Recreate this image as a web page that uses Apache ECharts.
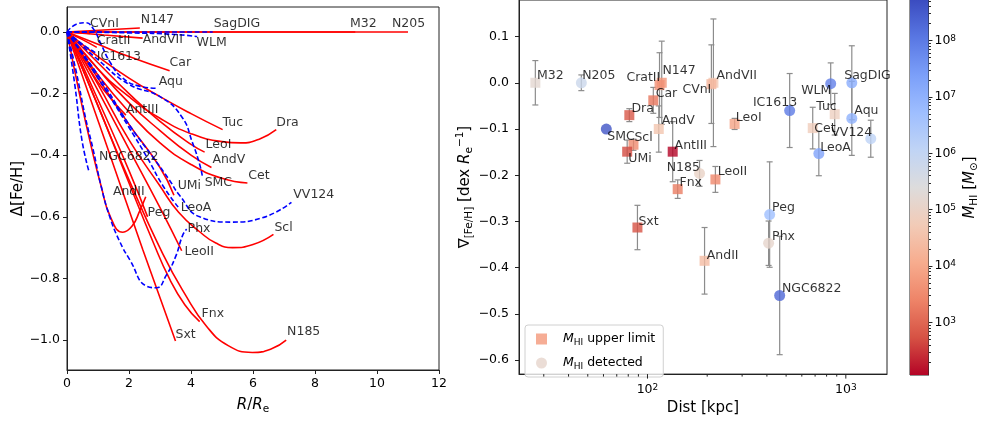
<!DOCTYPE html>
<html>
<head>
<meta charset="utf-8">
<script src="https://cdn.jsdelivr.net/npm/echarts@6/dist/echarts.min.js"></script>
<style>
html,body{margin:0;padding:0;background:#fff;}
#chart{width:981px;height:421px;}
</style>
</head>
<body>
<div id="chart"></div>
<script>
// ---- left panel: metallicity profiles  Δ[Fe/H] vs R/Re ----
var profNames = ['N147','M32','N205','CVnI','CratII','AndVII','Car','AntIII','Tuc','Dra','LeoI','AndV','Cet','UMi','AndII','Peg','Scl','LeoII','Fnx','Sxt','N185',
                 'Aqu','WLM','SagDIG','IC1613','SMC','VV124','LeoA','Phx','NGC6822'];
var profDashed = [0,0,0,0,0,0,0,0,0,0,0,0,0,0,0,0,0,0,0,0,0, 1,1,1,1,1,1,1,1,1];
var profPoints = [
  [[0,0],[2.35,0.013]],
  [[0,0],[9.3,0]],
  [[0,0],[11,0]],
  [[0,0],[0.74,-0.005]],
  [[0,0],[0.5,-0.025],[0.96,-0.05]],
  [[0,0],[1.2,-0.01],[2.44,-0.02]],
  [[0,0],[1,-0.04],[2,-0.08],[3.31,-0.126]],
  [[0,0],[0.6,-0.1],[1.2,-0.19],[1.9,-0.27]],
  [[0,0],[1,-0.08],[2,-0.15],[3,-0.21],[4,-0.265],[5.02,-0.317]],
  [[0,0],[1,-0.12],[2,-0.21],[3,-0.28],[4,-0.33],[5,-0.356],[5.6,-0.36],[6.2,-0.348],[6.75,-0.317]],
  [[0,0],[1,-0.1],[2,-0.2],[3,-0.29],[4,-0.365],[4.44,-0.39]],
  [[0,0],[1,-0.12],[2,-0.23],[3,-0.32],[4,-0.4],[4.66,-0.44]],
  [[0,0],[1,-0.14],[2,-0.26],[3,-0.36],[4,-0.43],[5,-0.475],[5.82,-0.49]],
  [[0,0],[1,-0.15],[2,-0.3],[3,-0.44],[3.45,-0.53]],
  [[0,0],[0.4,-0.2],[0.8,-0.38],[1.1,-0.5],[1.4,-0.6],[1.8,-0.65],[2.1,-0.63],[2.35,-0.58],[2.54,-0.535]],
  [[0,0],[1,-0.22],[2,-0.45],[2.6,-0.6]],
  [[0,0],[1,-0.17],[2,-0.35],[3,-0.5],[3.6,-0.585],[4.3,-0.65],[4.8,-0.685],[5.34,-0.7],[6,-0.69],[6.66,-0.657]],
  [[0,0],[1,-0.19],[2,-0.38],[3,-0.57],[3.7,-0.71]],
  [[0,0],[1,-0.24],[2,-0.49],[2.77,-0.68],[3.3,-0.8],[3.8,-0.885],[4.28,-0.94]],
  [[0,0],[1.2,-0.345],[2.44,-0.705],[3.5,-1.003]],
  [[0,0],[1,-0.24],[2,-0.48],[3.09,-0.72],[3.8,-0.85],[4.5,-0.955],[5.2,-1.018],[5.98,-1.04],[6.6,-1.028],[7.07,-1.0]],
  [[0,0],[0.3,0.025],[0.6,0.03],[0.85,0.01],[1.1,-0.04],[1.4,-0.1],[1.8,-0.15],[2.3,-0.175],[2.93,-0.183]],
  [[0,0],[2,-0.003],[3.5,-0.008],[4.2,-0.015]],
  [[0,0],[4.7,0]],
  [[0,0],[0.5,-0.04],[0.96,-0.07]],
  [[0,0],[1,-0.09],[2,-0.17],[3,-0.21],[3.7,-0.275],[4.05,-0.36],[4.28,-0.43],[4.37,-0.47]],
  [[0,0],[1,-0.14],[2,-0.3],[2.8,-0.41],[3.3,-0.48],[3.63,-0.53],[4.28,-0.6],[5.3,-0.617],[6.3,-0.603],[7.24,-0.553]],
  [[0,0],[1,-0.15],[2,-0.31],[2.6,-0.41],[3.1,-0.5],[3.6,-0.57]],
  [[0,0],[0.3,-0.13],[0.6,-0.28],[0.84,-0.38],[1.1,-0.5],[1.38,-0.6],[1.7,-0.68],[2.03,-0.74],[2.57,-0.825],[2.89,-0.83],[3.2,-0.79],[3.5,-0.73],[3.73,-0.66],[3.86,-0.64]],
  [[0,0],[0.25,-0.17],[0.48,-0.35],[0.7,-0.45]]
];
// where each name is written (data units)
var profLabelX = [2.38,9.13,10.48,0.74,0.96,2.44,3.31,1.9,5.02,6.75,4.47,4.69,5.85,3.57,1.48,2.6,6.69,3.79,4.34,3.5,7.1,
                  2.96,4.18,4.73,0.96,4.44,7.3,3.67,3.89,1.03];
var profLabelY = [0.039,0.026,0.026,0.026,-0.029,-0.026,-0.1,-0.252,-0.294,-0.294,-0.366,-0.414,-0.466,-0.498,-0.518,-0.586,-0.634,-0.712,-0.913,-0.981,-0.974,
                  -0.162,-0.036,0.026,-0.081,-0.489,-0.527,-0.57,-0.638,-0.405];

// ---- right panel: gradient vs distance ----
var galNames  = ['M32','N205','SMC','Dra','Scl','UMi','N147','CratII','Car','AndV','AntIII','N185','Fnx','LeoII','AndVII','CVnI','LeoI',
                 'IC1613','WLM','SagDIG','Aqu','Tuc','Cet','VV124','LeoA','Peg','Phx','NGC6822','AndII','Sxt'];
var galDist   = [27.2,46.4,62,81,85,79,118,115,107,114,134,183,142,220,215,210,275,521,839,1072,1072,879,681,1336,731,413,408,464,194,89];
var galGrad   = [0,0,-0.1,-0.07,-0.134,-0.149,0,-0.005,-0.038,-0.1,-0.149,-0.196,-0.23,-0.209,0,-0.003,-0.089,
                 -0.06,-0.002,0,-0.077,-0.068,-0.098,-0.121,-0.153,-0.285,-0.347,-0.46,-0.385,-0.313];
var galErr    = [0.048,0.017,0,0.014,0.012,0.025,0.09,0.07,0.028,0.05,0.065,0.028,0.02,0.028,0.138,0.085,0.012,
                 0.08,0.045,0.08,0.08,0.045,0.045,0.04,0.048,0.114,0.048,0.128,0.072,0.048];
var galLogMHI = [5.2,5.8,8.6,2.8,3.5,2.67,3.7,3.6,3.2,4.6,2.05,5.0,3.3,3.45,4.66,4.3,3.9,
                 8.0,7.9,7.1,7.0,4.9,4.8,6.1,7.3,6.7,5.1,8.3,4.4,2.75];
var galUpper  = [1,0,0,1,1,1,1,1,1,1,1,0,1,1,1,1,1, 0,0,0,0,1,1,0,0,0,0,0,1,1];
var galLabelDist = [27.7,46.9,62.7,83,85.9,80.1,119,78.3,110,118,137,125,145,226,223,150,279,
                    340,596,982,1104,709,693,845,743,425,425,476,199,90];
var galLabelGrad = [0.016,0.016,-0.116,-0.056,-0.118,-0.165,0.025,0.010,-0.024,-0.082,-0.136,-0.183,-0.217,-0.193,0.016,-0.016,-0.076,
                    -0.043,-0.018,0.016,-0.061,-0.052,-0.099,-0.108,-0.140,-0.27,-0.334,-0.446,-0.373,-0.301];
var distMajorTicks = [100,1000];
var distMinorTicks = [30,40,50,60,70,80,90,200,300,400,500,600,700,800,900];

// ---- colour bar (log10 M_HI) ----
var cbarMin = 2.067, cbarMax = 8.72;
var cbarMajor = [3,4,5,6,7,8];
var coolwarmR = ['#b40426','#d65244','#ee8468','#f7ac8e','#f2cbb7','#dddcdc','#c0d4f5','#9ebeff','#7b9ff9','#5977e3','#3b4cc0'];

var FONT = 'DejaVu Sans';
var AX = '#222';

function hexRgb(h){ return [parseInt(h.substr(1,2),16),parseInt(h.substr(3,2),16),parseInt(h.substr(5,2),16)]; }
function mhiColor(lg){
  var t = (lg - cbarMin) / (cbarMax - cbarMin) * (coolwarmR.length - 1);
  t = Math.max(0, Math.min(coolwarmR.length - 1, t));
  var i = Math.min(Math.floor(t), coolwarmR.length - 2), f = t - i;
  var a = hexRgb(coolwarmR[i]), b = hexRgb(coolwarmR[i+1]);
  return 'rgb(' + [0,1,2].map(function(k){ return Math.round(a[k] + (b[k]-a[k])*f); }).join(',') + ')';
}
function fmtDec(v){ return (v < -1e-9 ? '\u2212' : '') + Math.abs(v).toFixed(1); }

var minorCbar = [];
for (var e = 2; e <= 8; e++) {
  for (var k = 2; k <= 9; k++) {
    var lv = e + Math.log10(k);
    if (lv > cbarMin && lv < cbarMax) minorCbar.push(lv);
  }
}

var rich = {
  it:  {fontStyle:'italic', fontFamily:FONT, fontSize:15, lineHeight:20},
  sub: {fontFamily:FONT, fontSize:10.5, lineHeight:11, verticalAlign:'bottom'},
  sup: {fontFamily:FONT, fontSize:10.5, lineHeight:11, verticalAlign:'top'}
};
var tickRich = {
  sup: {fontFamily:FONT, fontSize:9, lineHeight:9, verticalAlign:'top', color:'#000'}
};

var series = [];

// profiles
profNames.forEach(function(n, i){
  series.push({
    type:'line', name:n, xAxisIndex:0, yAxisIndex:0,
    data: profPoints[i], showSymbol:false, smooth:0.5,
    lineStyle:{color: profDashed[i] ? '#0000ff' : '#ff0000', width:1.6, type: profDashed[i] ? [5,2.5] : 'solid'},
    silent:true, z:2
  });
});
series.push({
  type:'scatter', xAxisIndex:0, yAxisIndex:0, symbolSize:0, silent:true, z:5,
  data: profNames.map(function(n,i){ return {name:n, value:[profLabelX[i], profLabelY[i]]}; }),
  label:{show:true, formatter:'{b}', position:[0,0], align:'left', verticalAlign:'middle',
         fontFamily:FONT, fontSize:12.5, color:'#000'}
});

// error bars
series.push({
  type:'custom', xAxisIndex:1, yAxisIndex:1, silent:true, z:1,
  data: galDist.map(function(d,i){ return [d, galGrad[i], galErr[i]]; }),
  renderItem: function(p, api){
    var x = api.value(0), y = api.value(1), er = api.value(2);
    if (!er) return null;
    var t = api.coord([x, y + er]), b = api.coord([x, y - er]);
    var st = {stroke:'#8c8c8c', lineWidth:1.2};
    return {type:'group', children:[
      {type:'line', shape:{x1:t[0], y1:t[1], x2:b[0], y2:b[1]}, style:st},
      {type:'line', shape:{x1:t[0]-3, y1:t[1], x2:t[0]+3, y2:t[1]}, style:st},
      {type:'line', shape:{x1:b[0]-3, y1:b[1], x2:b[0]+3, y2:b[1]}, style:st}
    ]};
  }
});
function galItems(flag){
  var out = [];
  galNames.forEach(function(n,i){
    if (galUpper[i] === flag) out.push({name:n, value:[galDist[i], galGrad[i]], itemStyle:{color:mhiColor(galLogMHI[i])}});
  });
  return out;
}
series.push({type:'scatter', name:'upper', xAxisIndex:1, yAxisIndex:1, symbol:'rect', symbolSize:10, z:3,
  itemStyle:{color:'#f4987a'}, data: galItems(1)});
series.push({type:'scatter', name:'detected', xAxisIndex:1, yAxisIndex:1, symbol:'circle', symbolSize:11, z:3,
  itemStyle:{color:'#e6d5cc'}, data: galItems(0)});
series.push({
  type:'scatter', xAxisIndex:1, yAxisIndex:1, symbolSize:0, silent:true, z:5,
  data: galNames.map(function(n,i){ return {name:n, value:[galLabelDist[i], galLabelGrad[i]]}; }),
  label:{show:true, formatter:'{b}', position:[0,0], align:'left', verticalAlign:'middle',
         fontFamily:FONT, fontSize:12.5, color:'#000'}
});
// log-axis ticks of the distance axis
series.push({
  type:'custom', xAxisIndex:1, yAxisIndex:1, silent:true, clip:false, z:4,
  data: distMajorTicks.map(function(v){ return [v, -0.63, 4.5]; }).concat(distMinorTicks.map(function(v){ return [v, -0.63, 2.5]; })),
  renderItem: function(p, api){
    var c = api.coord([api.value(0), api.value(1)]);
    return {type:'line', shape:{x1:c[0], y1:c[1], x2:c[0], y2:c[1] + api.value(2)}, style:{stroke:AX, lineWidth:1}};
  }
});
// colour bar
series.push({
  type:'custom', xAxisIndex:3, yAxisIndex:2, silent:true, z:1,
  data: [[0.5, 5]],
  renderItem: function(p, api){
    var cs = p.coordSys;
    var stops = coolwarmR.map(function(c, i){ return {offset: i / (coolwarmR.length - 1), color: c}; });
    return {type:'rect', shape:{x:cs.x, y:cs.y, width:cs.width, height:cs.height},
            style:{fill: new echarts.graphic.LinearGradient(0, 1, 0, 0, stops)}};
  }
});

var chart = echarts.init(document.getElementById('chart'), null, {renderer:'canvas'});
chart.setOption({
  animation:false,
  backgroundColor:'#fff',
  textStyle:{fontFamily:FONT},
  grid:[
    {left:67, top:7, width:372, height:363, show:true, borderColor:AX, borderWidth:1, backgroundColor:'transparent'},
    {left:519, top:-3, width:368, height:378, show:true, borderColor:AX, borderWidth:1, backgroundColor:'transparent'},
    {left:910, top:-3, width:25, height:378, show:true, borderColor:AX, borderWidth:1, backgroundColor:'transparent'}
  ],
  legend:{
    data:['upper','detected'], orient:'vertical', left:525, top:325, padding:[6,8,6,11],
    itemWidth:11, itemHeight:11, itemGap:8, borderColor:'#d0d0d0', borderWidth:1, borderRadius:3,
    backgroundColor:'rgba(255,255,255,0.8)', selectedMode:false,
    formatter: function(n){ return n === 'upper' ? '{gap|}{it|M}{sub|HI} upper limit' : '{gap|}{it|M}{sub|HI} detected'; },
    textStyle:{fontFamily:FONT, fontSize:12.5, color:'#000', lineHeight:16,
      rich:{gap:{width:11}, it:{fontStyle:'italic', fontSize:12.5, lineHeight:16}, sub:{fontSize:9, lineHeight:9, verticalAlign:'bottom'}}}
  },
  xAxis:[
    {type:'value', gridIndex:0, min:0, max:12, interval:2,
     axisLine:{onZero:false, lineStyle:{color:AX}}, axisTick:{length:4, lineStyle:{color:AX}}, splitLine:{show:false},
     axisLabel:{fontFamily:FONT, fontSize:12.5, color:'#000', margin:7},
     name:'{it|R}/{it|R}{sub|e}', nameLocation:'middle', nameGap:21,
     nameTextStyle:{fontFamily:FONT, fontSize:15, color:'#000', lineHeight:20, rich:rich}},
    {type:'log', logBase:10, gridIndex:1, min:22.5, max:1613, position:'bottom',
     axisLine:{onZero:false, lineStyle:{color:AX}}, axisTick:{show:false}, splitLine:{show:false}, minorTick:{show:false},
     axisLabel:{fontFamily:FONT, fontSize:12.5, color:'#000', margin:9, rich:tickRich,
       formatter:function(v){ var e = Math.log10(v); return Math.abs(e - Math.round(e)) < 1e-6 ? '10{sup|' + Math.round(e) + '}' : ''; }},
     name:'Dist [kpc]', nameLocation:'middle', nameGap:25,
     nameTextStyle:{fontFamily:FONT, fontSize:15, color:'#000'}},
    {type:'value', gridIndex:1, show:false, min:0, max:1, axisLine:{onZero:false}},
    {type:'value', gridIndex:2, show:false, min:0, max:1, axisLine:{onZero:false}}
  ],
  yAxis:[
    {type:'value', gridIndex:0, min:-1.097, max:0.081,
     axisLine:{onZero:false, lineStyle:{color:AX}}, splitLine:{show:false},
     axisTick:{length:4, lineStyle:{color:AX}, customValues:[-1,-0.8,-0.6,-0.4,-0.2,0]},
     axisLabel:{fontFamily:FONT, fontSize:12.5, color:'#000', margin:7, formatter:fmtDec, customValues:[-1,-0.8,-0.6,-0.4,-0.2,0]},
     name:'\u0394[Fe/H]', nameLocation:'middle', nameGap:39, nameRotate:90,
     nameTextStyle:{fontFamily:FONT, fontSize:15, color:'#000'}},
    {type:'value', gridIndex:1, min:-0.63, max:0.179,
     axisLine:{onZero:false, lineStyle:{color:AX}}, splitLine:{show:false},
     axisTick:{length:4, lineStyle:{color:AX}, customValues:[-0.6,-0.5,-0.4,-0.3,-0.2,-0.1,0,0.1]},
     axisLabel:{fontFamily:FONT, fontSize:12.5, color:'#000', margin:10, formatter:fmtDec, customValues:[-0.6,-0.5,-0.4,-0.3,-0.2,-0.1,0,0.1]},
     name:'\u2207{sub|[Fe/H]} [dex {it|R}{sub|e}{sup|\u22121}]', nameLocation:'middle', nameGap:40, nameRotate:90,
     nameTextStyle:{fontFamily:FONT, fontSize:15, color:'#000', lineHeight:20, rich:rich}},
    {type:'value', gridIndex:2, position:'right', min:cbarMin, max:cbarMax,
     axisLine:{onZero:false, lineStyle:{color:AX}}, splitLine:{show:false},
     axisTick:{length:4, lineStyle:{color:AX}, customValues:cbarMajor},
     axisLabel:{fontFamily:FONT, fontSize:12.5, color:'#000', margin:6, rich:tickRich, customValues:cbarMajor,
       formatter:function(v){ return '10{sup|' + Math.round(v) + '}'; }},
     name:'{it|M}{sub|HI} [{it|M}{sub|\u2299}]', nameLocation:'middle', nameGap:30, nameRotate:90,
     nameTextStyle:{fontFamily:FONT, fontSize:15, color:'#000', lineHeight:20, rich:rich}},
    {type:'value', gridIndex:2, position:'right', min:cbarMin, max:cbarMax,
     axisLine:{show:false, onZero:false}, splitLine:{show:false}, axisLabel:{show:false},
     axisTick:{length:2.5, lineStyle:{color:AX}, customValues:minorCbar}}
  ],
  series: series
});
</script>
</body>
</html>
